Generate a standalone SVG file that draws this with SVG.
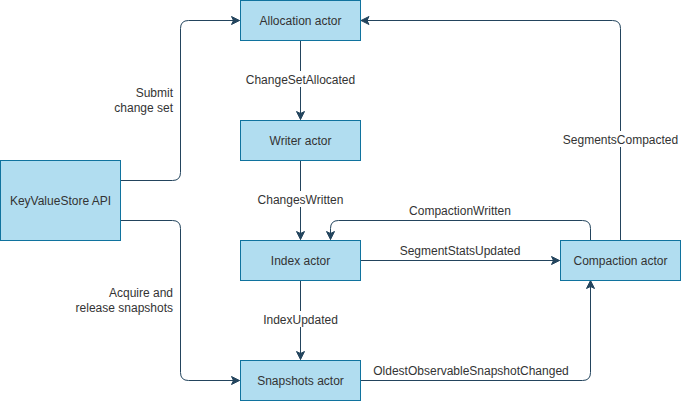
<svg xmlns="http://www.w3.org/2000/svg" width="681" height="401" viewBox="0 0 681 401">
<style>
.node rect{fill:#b1ddf0;stroke:#10739e;stroke-width:1}
.node text{font-family:"Liberation Sans",Arial,sans-serif;font-size:12px;fill:#333;text-anchor:middle;dominant-baseline:central}
.edges path{fill:none;stroke:#23445d;stroke-width:1}
.lbl{font-family:"Liberation Sans",Arial,sans-serif;font-size:12px;fill:#333}
.bg{fill:#fff}
</style>
<defs>
<marker id="arr" viewBox="0 0 10 10" refX="9" refY="5" markerWidth="10" markerHeight="10" markerUnits="userSpaceOnUse" orient="auto">
<path d="M1,1 L9,5 L1,9 L3,5 Z" fill="#23445d" stroke="#23445d" stroke-width="1"/>
</marker>
</defs>
<rect width="681" height="401" fill="#fff"/>
<g class="edges">
<path d="M120.5,180.5 H172.5 Q180.5,180.5 180.5,172.5 V28.5 Q180.5,20.5 188.5,20.5 H239.5" marker-end="url(#arr)"/>
<path d="M120.5,220.5 H172.5 Q180.5,220.5 180.5,228.5 V372.5 Q180.5,380.5 188.5,380.5 H239.5" marker-end="url(#arr)"/>
<path d="M300.5,40.5 V119.5" marker-end="url(#arr)"/>
<path d="M300.5,160.5 V239.5" marker-end="url(#arr)"/>
<path d="M300.5,280.5 V359.5" marker-end="url(#arr)"/>
<path d="M360.5,260.5 H559.5" marker-end="url(#arr)"/>
<path d="M590.5,240.5 V228.5 Q590.5,220.5 582.5,220.5 H338.5 Q330.5,220.5 330.5,228.5 V239.5" marker-end="url(#arr)"/>
<path d="M360.5,380.5 H582.5 Q590.5,380.5 590.5,372.5 V280.5" marker-end="url(#arr)"/>
<path d="M620.5,240.5 V28.5 Q620.5,20.5 612.5,20.5 H361" marker-end="url(#arr)"/>
<rect class="bg" x="245" y="71" width="111" height="16"/>
<text class="lbl" x="300.5" y="84" text-anchor="middle">ChangeSetAllocated</text>
<rect class="bg" x="254" y="191" width="93" height="16"/>
<text class="lbl" x="300.5" y="204" text-anchor="middle">ChangesWritten</text>
<rect class="bg" x="260" y="311" width="81" height="16"/>
<text class="lbl" x="300.5" y="324" text-anchor="middle">IndexUpdated</text>
<rect class="bg" x="561" y="131" width="119" height="16"/>
<text class="lbl" x="620.5" y="144" text-anchor="middle">SegmentsCompacted</text>
<text class="lbl" x="173" y="97" text-anchor="end">Submit</text>
<text class="lbl" x="173" y="112" text-anchor="end">change set</text>
<text class="lbl" x="173" y="297" text-anchor="end">Acquire and</text>
<text class="lbl" x="173" y="312" text-anchor="end">release snapshots</text>
<text class="lbl" x="460" y="215" text-anchor="middle">CompactionWritten</text>
<text class="lbl" x="460" y="255" text-anchor="middle">SegmentStatsUpdated</text>
<text class="lbl" x="471" y="375" text-anchor="middle">OldestObservableSnapshotChanged</text>
</g>
<g id="allocation" class="node"><rect x="240.5" y="0.5" width="120" height="40"/><text x="300.5" y="20.5">Allocation actor</text></g>
<g id="writer" class="node"><rect x="240.5" y="120.5" width="120" height="40"/><text x="300.5" y="140.5">Writer actor</text></g>
<g id="index" class="node"><rect x="240.5" y="240.5" width="120" height="40"/><text x="300.5" y="260.5">Index actor</text></g>
<g id="snapshots" class="node"><rect x="240.5" y="360.5" width="120" height="40"/><text x="300.5" y="380.5">Snapshots actor</text></g>
<g id="kvs" class="node"><rect x="0.5" y="160.5" width="120" height="80"/><text x="60.5" y="200.5">KeyValueStore API</text></g>
<g id="compaction" class="node"><rect x="560.5" y="240.5" width="120" height="40"/><text x="620.5" y="260.5">Compaction actor</text></g>
</svg>
